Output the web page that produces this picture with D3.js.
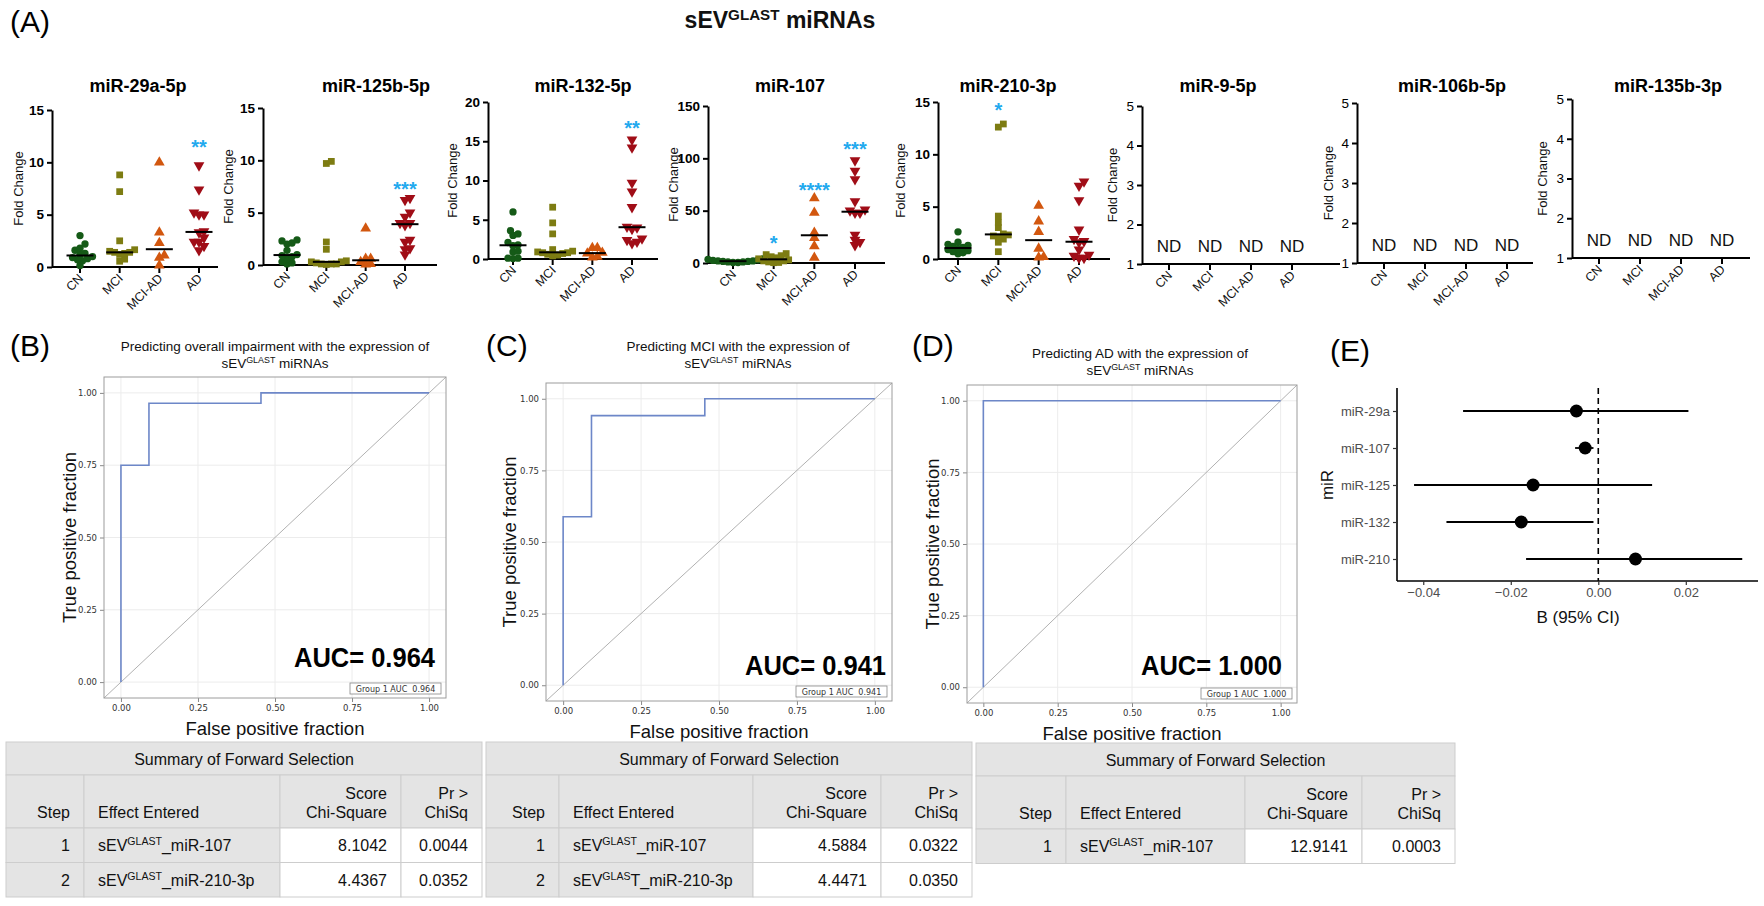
<!DOCTYPE html>
<html><head><meta charset="utf-8">
<script src="https://cdn.jsdelivr.net/npm/d3@7"></script>
<style>body{margin:0;background:#fff;} svg{display:block;font-family:"Liberation Sans",Arial,Helvetica,sans-serif;}</style>
</head><body><svg id="c" width="1764" height="906"></svg>
<script>
// ================= DATA =================
const groups = ["CN","MCI","MCI-AD","AD"];
const mirTitles = ["miR-29a-5p","miR-125b-5p","miR-132-5p","miR-107","miR-210-3p","miR-9-5p","miR-106b-5p","miR-135b-3p"];
const yTickValues = [[0,5,10,15],[0,5,10,15],[0,5,10,15,20],[0,50,100,150],[0,5,10,15],[1,2,3,4,5],[1,2,3,4,5],[1,2,3,4,5]];

const mir29a = [
  [3.0,2.2,1.8,1.6,1.3,1.2,1.0,0.9,0.8,0.7,0.6,0.15],
  [8.8,7.2,2.5,1.65,1.5,1.4,1.4,1.3,1.2,0.75,0.55],
  [10.0,3.3,2.3,1.1,0.9,0.15],
  [9.7,7.4,5.2,5.0,5.0,3.4,3.3,2.8,2.4,2.4,2.0,1.6]
];
const mir125b = [
  [2.4,2.3,2.1,2.0,1.4,1.0,0.9,0.8,0.6,0.3,0.2,0.1],
  [9.9,9.7,2.2,1.5,0.4,0.3,0.3,0.2,0.1,0.1,0.1,0.05],
  [3.5,0.6,0.6,0.3,0.1,0.05],
  [6.4,6.2,5.0,4.6,4.0,4.0,3.8,2.4,2.2,1.6,1.5,1.0]
];
const mir132 = [
  [6.0,3.6,3.2,3.0,2.1,1.8,1.7,1.0,0.9,0.1,0.1,0.05],
  [6.6,4.6,3.2,1.2,1.0,0.9,0.8,0.8,0.7,0.6,0.5,0.4],
  [1.4,1.4,0.8,0.7,0.3,0.2],
  [15.2,14.2,9.7,8.6,6.6,4.1,4.0,3.8,2.6,2.4,2.2,2.0]
];
const mir107 = [
  [4.0,3.5,3.0,2.5,2.0,2.0,1.5,1.5,1.0,1.0,0.5,0.5],
  [9,8,7,6,5,4,3,2,2,1,0.5,0.3],
  [62,48,29,24,16,5],
  [98,88,80,59,51,50,48,48,27,22,20,17]
];
const mir210 = [
  [2.6,1.6,1.4,1.3,1.2,1.1,1.0,0.9,0.8,0.7,0.6,0.5],
  [12.9,12.6,4.1,3.5,3.0,2.4,2.3,2.2,2.1,1.9,1.6,0.7],
  [5.1,3.6,2.6,1.0,0.2,0.15],
  [7.4,7.0,5.6,2.8,1.9,1.7,1.6,0.9,0.4,0.3,0.1,0.1]
];
const mirValues = [mir29a, mir125b, mir132, mir107, mir210, null, null, null];
const notDetected = "ND";
// significance: panel index, group index, label, y value
const sigPanel = [0,1,2,3,3,3,4];
const sigGroup = [3,3,3,1,2,3,1];
const sigLabel = ["**","***","**","*","****","***","*"];
const sigValue = [11.8,7.6,17.2,22.6,74,113,14.6];

// ROC curves
const rocTitles = ["Predicting overall impairment with the expression of","Predicting MCI with the expression of","Predicting AD with the expression of"];
const rocAuc = ["0.964","0.941","1.000"];
const rocFprImpair = [0,0,0.0909,0.0909,0.4545,0.4545,1];
const rocTprImpair = [0,0.75,0.75,0.964,0.964,1,1];
const rocFprMci = [0,0,0.0909,0.0909,0.4545,0.4545,1];
const rocTprMci = [0,0.588,0.588,0.941,0.941,1,1];
const rocFprAd = [0,0,1];
const rocTprAd = [0,1,1];
const rocTicks = [0,0.25,0.5,0.75,1];

// Forest plot
const forestMirs = ["miR-29a","miR-107","miR-125","miR-132","miR-210"];
const forestEst  = [-0.0050,-0.0030,-0.0149,-0.0176,0.0085];
const forestLow  = [-0.0309,-0.0053,-0.0421,-0.0347,-0.0165];
const forestHigh = [0.0206,-0.0011,0.0123,-0.0011,0.0329];
const forestTicks = [-0.04,-0.02,0.00,0.02];

// Tables
const tableHeaders = ["Step","Effect Entered","Score|Chi-Square","Pr >|ChiSq"];
const table1Rows = [["1","_miR-107","8.1042","0.0044"],["2","_miR-210-3p","4.4367","0.0352"]];
const table2Rows = [["1","_miR-107","4.5884","0.0322"],["2","T_miR-210-3p","4.4471","0.0350"]];
const table3Rows = [["1","_miR-107","12.9141","0.0003"]];
const table2SupText = ["GLAST","GLAS"];

// ================= LAYOUT =================
const panelAxisX   = [52,263,488,708,938,1142,1357,1572];
const panelAxisEnd = [218,437,658,885,1110,1340,1533,1750];
const panelTop     = [110,108,102,106,102,106,103,99];
const panelBottom  = [267,265,259,263,259,264,263,258];
const panelCatFirst= [80,287,513,733,958,1169,1384,1599];
const panelCatLast = [199,405,632,855,1079,1292,1507,1722];
const panelTitleX  = [138,376,583,790,1008,1218,1452,1668];
const panelYLabelX = [18,228,452,673,900,1112,1328,1542];
const groupColors = ["#155a17","#7d7c12","#d2570f","#a00d17"];
const groupSymbols = [d3.symbolCircle,d3.symbolSquare,d3.symbolTriangle,d3.symbolTriangle];
const groupSymbolSize = [42,46,50,50];
const starColor = "#22a9ee";

const svg = d3.select("#c");

function rich(g, x, y, parts, fs, anchor) {
  const t = g.append("text").attr("x",x).attr("y",y).attr("font-size",fs).attr("text-anchor",anchor||"start").attr("fill","#111");
  let shifted = false;
  parts.forEach(p => {
    const ts = t.append("tspan").text(p[0]);
    if (p[1]) { ts.attr("font-size", fs*0.66).attr("dy", -fs*0.36); shifted = true; }
    else if (shifted) { ts.attr("dy", fs*0.36); shifted = false; }
  });
  return t;
}

// ---- Title ----
svg.append("text").attr("x",10).attr("y",32).attr("font-size",30).text("(A)");
rich(svg, 780, 28, [["sEV"],["GLAST",1],[" miRNAs"]], 23, "middle").attr("font-weight","bold");

// ---- Top dot plots ----
function swarm(vals, y, cx, d) {
  const pts = vals.map(v => ({v, py: y(v)})).sort((a,b)=>b.py-a.py);
  const placed = [];
  const step = d*0.5;
  pts.forEach(p => {
    for (let k=0; k<80; k++) {
      const off = k===0 ? 0 : (k%2===1 ? 1 : -1) * Math.ceil(k/2) * step;
      const px = cx + off;
      if (placed.every(q => Math.hypot(q.px-px, q.py-p.py) >= d)) { p.px = px; placed.push(p); break; }
    }
  });
  return placed;
}

mirTitles.forEach((title, i) => {
  const g = svg.append("g");
  const ticks = yTickValues[i];
  const y = d3.scaleLinear().domain([ticks[0], ticks[ticks.length-1]]).range([panelBottom[i], panelTop[i]]);
  const x = d3.scalePoint().domain(groups).range([panelCatFirst[i], panelCatLast[i]]);
  const nd = !mirValues[i];

  g.append("text").attr("x",panelTitleX[i]).attr("y",92).attr("text-anchor","middle")
    .attr("font-size",18).attr("font-weight","bold").text(title);

  // y axis
  const ya = g.append("g").attr("transform",`translate(${panelAxisX[i]},0)`)
    .call(d3.axisLeft(y).tickValues(ticks).tickFormat(d3.format("d")).tickSize(5).tickPadding(3).tickSizeOuter(0));
  ya.attr("font-size",null).attr("font-family",null);
  ya.select(".domain").attr("stroke","#000").attr("stroke-width",2);
  ya.selectAll(".tick line").attr("stroke","#000").attr("stroke-width",2);
  ya.selectAll(".tick text").attr("font-size",13.5).attr("fill","#000")
    .attr("font-weight", nd ? "normal" : "bold");

  // x axis
  g.append("line").attr("x1",panelAxisX[i]).attr("x2",panelAxisEnd[i])
    .attr("y1",panelBottom[i]).attr("y2",panelBottom[i]).attr("stroke","#000").attr("stroke-width",2);
  groups.forEach(gr => {
    g.append("line").attr("x1",x(gr)).attr("x2",x(gr)).attr("y1",panelBottom[i]).attr("y2",panelBottom[i]+6)
      .attr("stroke","#000").attr("stroke-width",2);
    g.append("text").attr("transform",`translate(${x(gr)+4},${panelBottom[i]+12}) rotate(-45)`)
      .attr("text-anchor","end").attr("font-size",12.5).attr("fill","#111").text(gr);
  });

  g.append("text").attr("transform",`translate(${panelYLabelX[i]},${(panelTop[i]+panelBottom[i])/2}) rotate(-90)`)
    .attr("text-anchor","middle").attr("dy","0.35em").attr("font-size",13).attr("fill","#111").text("Fold Change");

  if (nd) {
    groups.forEach(gr => {
      g.append("text").attr("x",x(gr)).attr("y",y(1.3)).attr("text-anchor","middle")
        .attr("font-size",17).attr("fill","#111").text(notDetected);
    });
    return;
  }
  mirValues[i].forEach((vals, gi) => {
    const cx = x(groups[gi]);
    const pts = swarm(vals, y, cx, 5.0);
    const sym = d3.symbol().type(groupSymbols[gi]).size(groupSymbolSize[gi]);
    g.selectAll(null).data(pts).join("path")
      .attr("d", sym)
      .attr("transform", d => `translate(${d.px},${d.py})` + (gi===3 ? " rotate(180)" : ""))
      .attr("fill", groupColors[gi]);
    const med = d3.median(vals);
    g.append("line").attr("x1",cx-13.5).attr("x2",cx+13.5).attr("y1",y(med)).attr("y2",y(med))
      .attr("stroke","#000").attr("stroke-width",2);
  });
  sigPanel.forEach((p, k) => {
    if (p !== i) return;
    g.append("text").attr("x", x(groups[sigGroup[k]])).attr("y", y(sigValue[k])).attr("dy","0.55em")
      .attr("text-anchor","middle").attr("font-size",20).attr("font-weight","bold")
      .attr("fill",starColor).text(sigLabel[k]);
  });
});

// ---- ROC panels ----
const rocFrames = [
  {fx:104, fy:377, fw:342, fh:321, tx:275, ty:351, lab:"(B)", lx:10, aucX:435, aucY:667, ylx:70},
  {fx:546, fy:383, fw:346, fh:318, tx:738, ty:351, lab:"(C)", lx:486, aucX:886, aucY:675, ylx:510},
  {fx:967, fy:385, fw:330, fh:318, tx:1140, ty:358, lab:"(D)", lx:912, aucX:1282, aucY:675, ylx:933}
];
const rocFpr = [rocFprImpair, rocFprMci, rocFprAd];
const rocTpr = [rocTprImpair, rocTprMci, rocTprAd];

rocFrames.forEach((o, i) => {
  const g = svg.append("g");
  const x = d3.scaleLinear().domain([-0.055,1.055]).range([o.fx, o.fx+o.fw]);
  const y = d3.scaleLinear().domain([-0.055,1.055]).range([o.fy+o.fh, o.fy]);
  g.append("text").attr("x",o.lx).attr("y",356).attr("font-size",30).text(o.lab);
  g.append("text").attr("x",o.tx).attr("y",o.ty).attr("text-anchor","middle").attr("font-size",13.5).attr("fill","#111").text(rocTitles[i]);
  rich(g, o.tx, o.ty+17, [["sEV"],["GLAST",1],[" miRNAs"]], 13.5, "middle");
  // grid
  rocTicks.forEach(t => {
    g.append("line").attr("x1",x(t)).attr("x2",x(t)).attr("y1",o.fy).attr("y2",o.fy+o.fh).attr("stroke","#ececec");
    g.append("line").attr("y1",y(t)).attr("y2",y(t)).attr("x1",o.fx).attr("x2",o.fx+o.fw).attr("stroke","#ececec");
  });
  // axes ticks
  const xa = g.append("g").attr("transform",`translate(0,${o.fy+o.fh})`)
    .call(d3.axisBottom(x).tickValues(rocTicks).tickFormat(d3.format(".2f")).tickSize(4).tickSizeOuter(0));
  const yaa = g.append("g").attr("transform",`translate(${o.fx},0)`)
    .call(d3.axisLeft(y).tickValues(rocTicks).tickFormat(d3.format(".2f")).tickSize(4).tickSizeOuter(0));
  [xa, yaa].forEach(a => {
    a.select(".domain").remove();
    a.selectAll(".tick line").attr("stroke","#888");
    a.selectAll(".tick text").attr("font-size",8.5).attr("fill","#333").attr("font-family","DejaVu Sans, sans-serif");
  });
  // diagonal
  g.append("line").attr("x1",x(-0.055)).attr("y1",y(-0.055)).attr("x2",x(1.055)).attr("y2",y(1.055))
    .attr("stroke","#a8a8a8").attr("stroke-width",0.9);
  // frame
  g.append("rect").attr("x",o.fx).attr("y",o.fy).attr("width",o.fw).attr("height",o.fh)
    .attr("fill","none").attr("stroke","#9c9c9c");
  // curve
  const pts = rocFpr[i].map((f,k)=>[f, rocTpr[i][k]]);
  g.append("path").datum(pts).attr("d", d3.line().x(d=>x(d[0])).y(d=>y(d[1])))
    .attr("fill","none").attr("stroke","#6d87c8").attr("stroke-width",1.6);
  // AUC
  g.append("text").attr("x",o.aucX).attr("y",o.aucY).attr("text-anchor","end")
    .attr("font-size",28).attr("font-weight","bold").attr("textLength",141).attr("lengthAdjust","spacingAndGlyphs")
    .text("AUC= " + rocAuc[i]);
  const bx = o.fx+o.fw-96, by = o.fy+o.fh-15;
  g.append("rect").attr("x",bx).attr("y",by).attr("width",91).attr("height",11).attr("fill","#fff").attr("stroke","#888").attr("stroke-width",0.8);
  g.append("text").attr("x",bx+45.5).attr("y",by+8.5).attr("text-anchor","middle").attr("font-size",8)
    .attr("fill","#333").attr("font-family","DejaVu Sans, sans-serif").attr("xml:space","preserve")
    .text("Group 1 AUC  " + rocAuc[i]);
  // axis labels
  g.append("text").attr("transform",`translate(${o.ylx},${o.fy+o.fh/2}) rotate(-90)`).attr("text-anchor","middle")
    .attr("dy","0.35em").attr("font-size",18.5).attr("fill","#111").text("True positive fraction");
  g.append("text").attr("x",o.fx+o.fw/2).attr("y",o.fy+o.fh+37).attr("text-anchor","middle")
    .attr("font-size",18.5).attr("fill","#111").text("False positive fraction");
});

// ---- Forest plot (E) ----
(function(){
  const g = svg.append("g");
  g.append("text").attr("x",1330).attr("y",361).attr("font-size",30).text("(E)");
  const x = d3.scaleLinear().domain([-0.046,0.0365]).range([1397,1758]);
  const y = d3.scalePoint().domain(forestMirs).range([411,559]);
  const top = 388, bot = 581;
  g.append("line").attr("x1",x(0)).attr("x2",x(0)).attr("y1",top).attr("y2",bot)
    .attr("stroke","#000").attr("stroke-width",1.6).attr("stroke-dasharray","6,4");
  forestMirs.forEach((m,k) => {
    g.append("line").attr("x1",x(forestLow[k])).attr("x2",x(forestHigh[k])).attr("y1",y(m)).attr("y2",y(m))
      .attr("stroke","#000").attr("stroke-width",1.8);
    g.append("circle").attr("cx",x(forestEst[k])).attr("cy",y(m)).attr("r",6.5).attr("fill","#000");
  });
  const xa = g.append("g").attr("transform",`translate(0,${bot})`)
    .call(d3.axisBottom(x).tickValues(forestTicks).tickFormat(d3.format(".2f")).tickSize(4).tickSizeOuter(0));
  const ya = g.append("g").attr("transform",`translate(1397,0)`)
    .call(d3.axisLeft(y).tickSize(4).tickSizeOuter(0));
  xa.select(".domain").attr("d",`M1397,0H1758`);
  ya.select(".domain").attr("d",`M0,${top}V${bot}`);
  [xa,ya].forEach(a => {
    a.attr("font-family",null);
    a.select(".domain").attr("stroke","#000").attr("stroke-width",1.6);
    a.selectAll(".tick line").attr("stroke","#333").attr("stroke-width",1.2);
    a.selectAll(".tick text").attr("font-size",13).attr("fill","#4d4d4d");
  });
  g.append("text").attr("transform",`translate(1327,485) rotate(-90)`).attr("text-anchor","middle").attr("dy","0.35em")
    .attr("font-size",17).attr("fill","#111").text("miR");
  g.append("text").attr("x",1578).attr("y",623).attr("text-anchor","middle").attr("font-size",17).attr("fill","#111").text("B (95% CI)");
})();

// ---- Tables ----
const tableCols = [[6,84,280,401,482],[486,559,753,881,972],[976,1066,1245,1362,1455]];
const tableTops = [742,742,743];
const tableRowsAll = [table1Rows, table2Rows, table3Rows];
const grey = "#e4e4e4", border = "#cdcdcd";
tableRowsAll.forEach((rows, ti) => {
  const g = svg.append("g");
  const c = tableCols[ti];
  const t0 = tableTops[ti], hTitle = 33, hHead = 53, hRow = 34.5;
  const L = c[0], R = c[4];
  g.append("rect").attr("x",L).attr("y",t0).attr("width",R-L).attr("height",hTitle).attr("fill",grey).attr("stroke",border);
  g.append("text").attr("x",(L+R)/2).attr("y",t0+hTitle/2+6).attr("text-anchor","middle").attr("font-size",16).attr("fill","#111")
    .text("Summary of Forward Selection");
  const hy = t0 + hTitle;
  for (let k=0;k<4;k++) {
    g.append("rect").attr("x",c[k]).attr("y",hy).attr("width",c[k+1]-c[k]).attr("height",hHead).attr("fill",grey).attr("stroke",border);
  }
  const hb = hy + hHead - 10;
  g.append("text").attr("x",c[1]-14).attr("y",hb).attr("text-anchor","end").attr("font-size",16).attr("fill","#111").text(tableHeaders[0]);
  g.append("text").attr("x",c[1]+14).attr("y",hb).attr("text-anchor","start").attr("font-size",16).attr("fill","#111").text(tableHeaders[1]);
  [2,3].forEach(k => {
    const lines = tableHeaders[k].split("|");
    g.append("text").attr("x",c[k+1]-14).attr("y",hb-19).attr("text-anchor","end").attr("font-size",16).attr("fill","#111").text(lines[0]);
    g.append("text").attr("x",c[k+1]-14).attr("y",hb).attr("text-anchor","end").attr("font-size",16).attr("fill","#111").text(lines[1]);
  });
  rows.forEach((r, ri) => {
    const ry = hy + hHead + ri*hRow;
    for (let k=0;k<4;k++) {
      g.append("rect").attr("x",c[k]).attr("y",ry).attr("width",c[k+1]-c[k]).attr("height",hRow)
        .attr("fill", k<2 ? grey : "#fff").attr("stroke",border);
    }
    const bl = ry + hRow/2 + 6;
    g.append("text").attr("x",c[1]-14).attr("y",bl).attr("text-anchor","end").attr("font-size",16).attr("fill","#111").text(r[0]);
    const sup = (ti===1 && ri===1) ? table2SupText[1] : table2SupText[0];
    rich(g, c[1]+14, bl, [["sEV"],[sup,1],[r[1]]], 16, "start");
    g.append("text").attr("x",c[3]-14).attr("y",bl).attr("text-anchor","end").attr("font-size",16).attr("fill","#111").text(r[2]);
    g.append("text").attr("x",c[4]-14).attr("y",bl).attr("text-anchor","end").attr("font-size",16).attr("fill","#111").text(r[3]);
  });
});
</script></body></html>
